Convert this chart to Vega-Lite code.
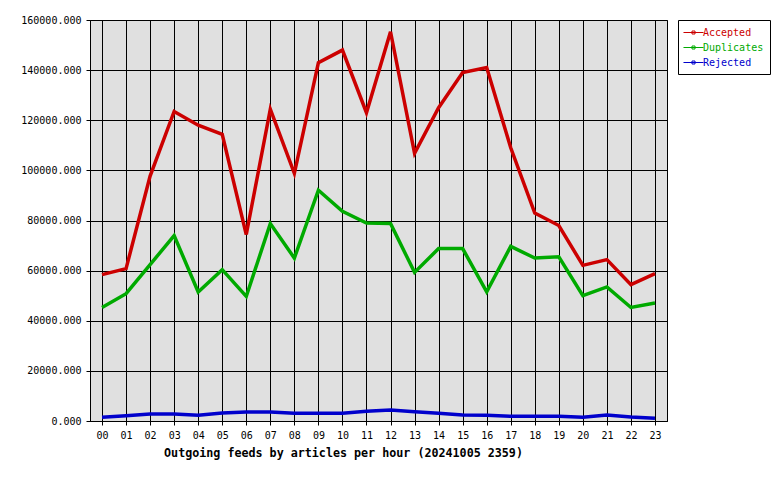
{
  "$schema": "https://vega.github.io/schema/vega-lite/v6.json",
  "width": 577,
  "height": 401,
  "autosize": {"type": "none"},
  "padding": {"left": 90, "top": 20, "right": 113, "bottom": 59},
  "background": "white",
  "config": {
    "view": {"fill": "#e0e0e0", "stroke": "black", "strokeWidth": 1},
    "font": "DejaVu Sans Mono"
  },
  "data": {
    "values": [
      {"hour": "00", "series": "Accepted", "value": 58400},
      {"hour": "01", "series": "Accepted", "value": 60800},
      {"hour": "02", "series": "Accepted", "value": 97700},
      {"hour": "03", "series": "Accepted", "value": 123500},
      {"hour": "04", "series": "Accepted", "value": 118000},
      {"hour": "05", "series": "Accepted", "value": 114400},
      {"hour": "06", "series": "Accepted", "value": 74400},
      {"hour": "07", "series": "Accepted", "value": 124400},
      {"hour": "08", "series": "Accepted", "value": 98800},
      {"hour": "09", "series": "Accepted", "value": 143000},
      {"hour": "10", "series": "Accepted", "value": 148000},
      {"hour": "11", "series": "Accepted", "value": 123000},
      {"hour": "12", "series": "Accepted", "value": 155300},
      {"hour": "13", "series": "Accepted", "value": 106800},
      {"hour": "14", "series": "Accepted", "value": 125000},
      {"hour": "15", "series": "Accepted", "value": 139000},
      {"hour": "16", "series": "Accepted", "value": 141000},
      {"hour": "17", "series": "Accepted", "value": 109000},
      {"hour": "18", "series": "Accepted", "value": 83000},
      {"hour": "19", "series": "Accepted", "value": 78000},
      {"hour": "20", "series": "Accepted", "value": 62100},
      {"hour": "21", "series": "Accepted", "value": 64400},
      {"hour": "22", "series": "Accepted", "value": 54400},
      {"hour": "23", "series": "Accepted", "value": 58800},
      {"hour": "00", "series": "Duplicates", "value": 45300},
      {"hour": "01", "series": "Duplicates", "value": 50800},
      {"hour": "02", "series": "Duplicates", "value": 62400},
      {"hour": "03", "series": "Duplicates", "value": 74000},
      {"hour": "04", "series": "Duplicates", "value": 51500},
      {"hour": "05", "series": "Duplicates", "value": 60400},
      {"hour": "06", "series": "Duplicates", "value": 49700},
      {"hour": "07", "series": "Duplicates", "value": 78800},
      {"hour": "08", "series": "Duplicates", "value": 65000},
      {"hour": "09", "series": "Duplicates", "value": 92100},
      {"hour": "10", "series": "Duplicates", "value": 83700},
      {"hour": "11", "series": "Duplicates", "value": 79000},
      {"hour": "12", "series": "Duplicates", "value": 78800},
      {"hour": "13", "series": "Duplicates", "value": 59300},
      {"hour": "14", "series": "Duplicates", "value": 68800},
      {"hour": "15", "series": "Duplicates", "value": 68800},
      {"hour": "16", "series": "Duplicates", "value": 51500},
      {"hour": "17", "series": "Duplicates", "value": 69700},
      {"hour": "18", "series": "Duplicates", "value": 65000},
      {"hour": "19", "series": "Duplicates", "value": 65500},
      {"hour": "20", "series": "Duplicates", "value": 50000},
      {"hour": "21", "series": "Duplicates", "value": 53500},
      {"hour": "22", "series": "Duplicates", "value": 45300},
      {"hour": "23", "series": "Duplicates", "value": 47100},
      {"hour": "00", "series": "Rejected", "value": 1470},
      {"hour": "01", "series": "Rejected", "value": 2130},
      {"hour": "02", "series": "Rejected", "value": 2800},
      {"hour": "03", "series": "Rejected", "value": 2800},
      {"hour": "04", "series": "Rejected", "value": 2270},
      {"hour": "05", "series": "Rejected", "value": 3200},
      {"hour": "06", "series": "Rejected", "value": 3600},
      {"hour": "07", "series": "Rejected", "value": 3600},
      {"hour": "08", "series": "Rejected", "value": 3070},
      {"hour": "09", "series": "Rejected", "value": 3070},
      {"hour": "10", "series": "Rejected", "value": 3070},
      {"hour": "11", "series": "Rejected", "value": 3870},
      {"hour": "12", "series": "Rejected", "value": 4400},
      {"hour": "13", "series": "Rejected", "value": 3730},
      {"hour": "14", "series": "Rejected", "value": 3070},
      {"hour": "15", "series": "Rejected", "value": 2400},
      {"hour": "16", "series": "Rejected", "value": 2270},
      {"hour": "17", "series": "Rejected", "value": 1870},
      {"hour": "18", "series": "Rejected", "value": 1870},
      {"hour": "19", "series": "Rejected", "value": 1870},
      {"hour": "20", "series": "Rejected", "value": 1470},
      {"hour": "21", "series": "Rejected", "value": 2400},
      {"hour": "22", "series": "Rejected", "value": 1600},
      {"hour": "23", "series": "Rejected", "value": 1070}
    ]
  },
  "mark": {"type": "line", "strokeWidth": 3.5, "strokeJoin": "miter", "strokeCap": "butt"},
  "encoding": {
    "x": {
      "field": "hour",
      "type": "ordinal",
      "scale": {"type": "point", "padding": 0.5},
      "axis": {
        "title": "Outgoing feeds by articles per hour (20241005 2359)",
        "titleFont": "DejaVu Sans Mono",
        "titleFontSize": 11.7,
        "titleFontWeight": "bold",
        "titleColor": "black",
        "titleX": 253,
        "titleY": 31,
        "titleAlign": "center",
        "titleBaseline": "middle",
        "labelAngle": 0,
        "labelFont": "DejaVu Sans Mono",
        "labelFontSize": 10,
        "labelColor": "black",
        "labelPadding": 5,
        "tickSize": 4,
        "tickColor": "black",
        "domainColor": "black",
        "grid": true,
        "gridColor": "black",
        "gridOpacity": 1,
        "gridWidth": 1
      }
    },
    "y": {
      "field": "value",
      "type": "quantitative",
      "scale": {"domain": [0, 160000], "nice": false},
      "axis": {
        "title": null,
        "values": [0, 20000, 40000, 60000, 80000, 100000, 120000, 140000, 160000],
        "format": ".3f",
        "labelFont": "DejaVu Sans Mono",
        "labelFontSize": 10,
        "labelColor": "black",
        "labelPadding": 5,
        "tickSize": 4,
        "tickColor": "black",
        "domainColor": "black",
        "grid": true,
        "gridColor": "black",
        "gridOpacity": 1,
        "gridWidth": 1
      }
    },
    "color": {
      "field": "series",
      "type": "nominal",
      "scale": {"domain": ["Accepted", "Duplicates", "Rejected"], "range": ["#cc0000", "#00aa00", "#0000cc"]},
      "legend": {
        "title": null,
        "orient": "none",
        "legendX": 588,
        "legendY": 0,
        "strokeColor": "black",
        "fillColor": "white",
        "padding": 6,
        "rowPadding": 3,
        "labelFont": "DejaVu Sans Mono",
        "labelFontSize": 10,
        "labelOffset": 3,
        "symbolOffset": 3,
        "symbolType": "M-1.667,0H1.667M-0.25,-0.25H0.25V0.25H-0.25Z",
        "symbolSize": 144,
        "symbolStrokeWidth": 1,
        "encode": {
          "labels": {"update": {"fill": {"scale": "color", "field": "value"}}}
        }
      }
    }
  }
}
